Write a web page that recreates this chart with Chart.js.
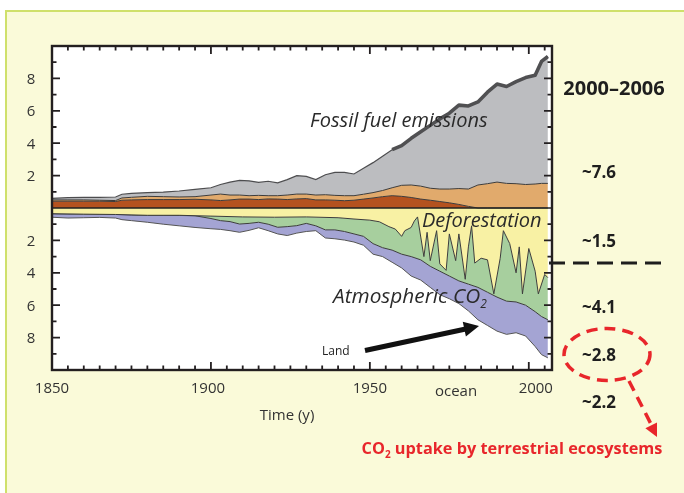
<!DOCTYPE html>
<html><head><meta charset="utf-8">
<style>html,body{margin:0;padding:0;background:#fff;overflow:hidden}#wrap{width:684px;height:493px;position:relative}</style>
<script src="https://cdn.jsdelivr.net/npm/chart.js@4.4.0/dist/chart.umd.min.js"></script>
</head><body><div id="wrap"><canvas id="c" width="684" height="493"></canvas></div>
<script>
// ---- data (GtC / y) ----
const years = [1850,1855,1860,1865,1870,1872,1875,1880,1885,1890,1895,1900,1903,1906,1909,1912,1915,1918,1921,1924,1927,1930,1933,1936,1939,1942,1945,1948,1951,1954,1957,1960,1963,1966,1969,1972,1975,1978,1981,1984,1987,1990,1993,1996,1999,2002,2004,2006];
const fossilTop = [0.6,0.64,0.66,0.66,0.68,0.85,0.9,0.95,0.98,1.05,1.15,1.25,1.45,1.6,1.7,1.68,1.58,1.65,1.55,1.75,2.0,1.95,1.75,2.05,2.2,2.2,2.1,2.45,2.8,3.2,3.6,3.85,4.3,4.7,5.1,5.5,5.85,6.35,6.3,6.55,7.15,7.65,7.5,7.8,8.05,8.2,9.05,9.35];
const landUseTop = [0.5,0.5,0.5,0.48,0.46,0.62,0.66,0.72,0.7,0.68,0.7,0.8,0.86,0.8,0.8,0.76,0.78,0.76,0.76,0.8,0.86,0.86,0.8,0.82,0.78,0.76,0.76,0.85,0.95,1.08,1.25,1.4,1.42,1.35,1.22,1.17,1.17,1.2,1.17,1.42,1.5,1.6,1.52,1.5,1.45,1.48,1.52,1.52];
const brownTop = [0.42,0.42,0.42,0.42,0.4,0.48,0.5,0.52,0.52,0.52,0.54,0.5,0.46,0.5,0.55,0.55,0.52,0.56,0.55,0.52,0.56,0.58,0.5,0.5,0.48,0.45,0.48,0.55,0.62,0.7,0.76,0.72,0.65,0.55,0.48,0.4,0.32,0.22,0.1,0,0,0,0,0,0,0,0,0];
const landSinkYears = [1850,1860,1870,1880,1890,1900,1910,1920,1930,1940,1945,1950,1953,1956,1958,1960,1961,1963,1964,1965,1967,1968,1969,1971,1972,1974,1975,1977,1978,1980,1981,1982,1983,1985,1987,1989,1991,1992,1994,1996,1997,1998,2000,2002,2003,2005,2006];
const landSinkEdge = [-0.35,-0.38,-0.4,-0.45,-0.45,-0.5,-0.55,-0.57,-0.55,-0.6,-0.68,-0.75,-0.85,-1.15,-1.3,-1.75,-1.4,-1.2,-0.8,-0.55,-3.0,-1.5,-3.25,-1.4,-3.45,-3.85,-1.6,-3.25,-1.6,-4.4,-2.4,-1.1,-3.4,-3.1,-3.2,-5.3,-3.1,-1.4,-2.2,-4.0,-2.4,-5.3,-2.5,-3.9,-5.3,-4.1,-4.3];
const atmosEdge = [-0.36,-0.37,-0.38,-0.39,-0.4,-0.41,-0.43,-0.45,-0.45,-0.46,-0.48,-0.65,-0.78,-0.84,-0.99,-0.95,-0.88,-1.0,-1.19,-1.15,-1.09,-0.95,-1.1,-1.35,-1.35,-1.45,-1.6,-1.75,-2.2,-2.45,-2.6,-2.85,-3.0,-3.2,-3.6,-3.9,-4.2,-4.5,-4.7,-4.9,-5.2,-5.5,-5.75,-5.8,-6.0,-6.4,-6.7,-6.9];
const oceanEdge = [-0.57,-0.62,-0.6,-0.58,-0.62,-0.72,-0.78,-0.88,-1.0,-1.1,-1.2,-1.28,-1.32,-1.4,-1.5,-1.38,-1.22,-1.4,-1.6,-1.7,-1.55,-1.45,-1.4,-1.85,-1.9,-1.98,-2.1,-2.3,-2.85,-3.0,-3.35,-3.7,-4.2,-4.45,-4.9,-5.35,-5.6,-5.9,-6.35,-6.9,-7.25,-7.6,-7.8,-7.7,-7.9,-8.55,-9.05,-9.25];
const xTickLabels = [1850,1900,1950,2000];
const yTickValues = [8,6,4,2,-2,-4,-6,-8];
const budgetLabels = ['~7.6','~1.5','~4.1','~2.8','~2.2'];

const pts = (xs, ys) => xs.map((x,i)=>({x, y: ys[i]}));
const LINE = '#3c3c3c';
const FONT = '"Open Sans", "DejaVu Sans", sans-serif';

function ds(data, fill, bg, extra){
  return Object.assign({data, fill, backgroundColor: bg, borderColor: LINE, borderWidth: 1,
    pointRadius: 0, tension: 0}, extra||{});
}

const bgPlugin = {
  id:'bg',
  beforeDraw(chart){
    const c = chart.ctx, a = chart.chartArea;
    c.save();
    c.fillStyle='#ffffff'; c.fillRect(0,0,chart.width,chart.height);
    c.fillStyle='#fafad9'; c.fillRect(6,11,chart.width-6,chart.height-11);
    c.strokeStyle='#cfe06b'; c.lineWidth=2;
    c.beginPath(); c.moveTo(6,chart.height); c.lineTo(6,11); c.lineTo(chart.width,11); c.stroke();
    c.fillStyle='#ffffff'; c.fillRect(a.left,a.top,a.right-a.left,a.bottom-a.top);
    c.restore();
  }
};

function subText(c, parts, x, y, align){
  const base = c.font;
  let total = 0; const widths=[];
  parts.forEach(p=>{ c.font = p[1]? p[2] : base; const w=c.measureText(p[0]).width; widths.push(w); total+=w; });
  let cx = align==='center' ? x-total/2 : x;
  c.textAlign='left';
  parts.forEach((p,i)=>{ c.font = p[1]? p[2] : base; c.fillText(p[0], cx, p[1]? y+p[3] : y); cx+=widths[i]; });
  c.font = base;
}

function arrowHead(c, x0,y0,x1,y1, len, half){
  const dx=x1-x0, dy=y1-y0, L=Math.hypot(dx,dy), ux=dx/L, uy=dy/L;
  const bx=x1-ux*len, by=y1-uy*len;
  c.beginPath(); c.moveTo(x1,y1); c.lineTo(bx-uy*half, by+ux*half); c.lineTo(bx+uy*half, by-ux*half); c.closePath(); c.fill();
}

const axesPlugin = {
  id:'axes',
  afterDatasetsDraw(chart){
    const c = chart.ctx, a = chart.chartArea, X = chart.scales.x, Y = chart.scales.y;
    c.save();
    c.strokeStyle='#222'; c.lineWidth=1.5;
    c.beginPath(); c.moveTo(a.left, Y.getPixelForValue(0)); c.lineTo(a.right, Y.getPixelForValue(0)); c.stroke();
    c.strokeStyle='#231f20'; c.lineWidth=2.4;
    c.strokeRect(a.left, a.top, a.right-a.left, a.bottom-a.top);
    c.lineWidth=1.8;
    c.beginPath();
    for(let yr=1850; yr<=2005; yr+=5){
      const px = X.getPixelForValue(yr), L = (yr%50===0)?8:4.5;
      c.moveTo(px,a.bottom); c.lineTo(px,a.bottom-L);
      c.moveTo(px,a.top); c.lineTo(px,a.top+L);
    }
    for(let v=-9; v<=9; v++){
      if(v===0) continue;
      const py = Y.getPixelForValue(v), L=(v%2===0)?8:4.5;
      c.moveTo(a.left,py); c.lineTo(a.left+L,py);
      c.moveTo(a.right,py); c.lineTo(a.right-L,py);
    }
    c.stroke();
    c.fillStyle='#333'; c.font='15px '+FONT; c.textBaseline='alphabetic';
    c.textAlign='center';
    yTickValues.forEach(v=>{ c.fillText(String(Math.abs(v)), 31, Y.getPixelForValue(v)+5.5); });
    xTickLabels.forEach((v,i)=>{ c.fillText(String(v), X.getPixelForValue(v) + (i===3?7:(i===1?-3:0)), 393); });
    c.fillText('ocean', 456, 396);
    c.fillText('Time (y)', 287, 420);
    c.fillStyle='#2a2a2a';
    c.font='italic 20px '+FONT; c.textAlign='left';
    c.fillText('Fossil fuel emissions', X.getPixelForValue(1931.2), Y.getPixelForValue(5.0));
    c.fillText('Deforestation', X.getPixelForValue(1966.4), Y.getPixelForValue(-1.15));
    c.font='italic 20.8px '+FONT;
    subText(c, [['Atmospheric CO',false],['2',true,'italic 12px '+FONT,5]], X.getPixelForValue(1938.4), Y.getPixelForValue(-5.86), 'left');
    c.font='12px '+FONT; c.fillStyle='#222';
    c.fillText('Land', 322, 355);
    c.strokeStyle='#111'; c.fillStyle='#111'; c.lineWidth=5;
    c.beginPath(); c.moveTo(365,350.5); c.lineTo(468,328.5); c.stroke();
    arrowHead(c, 365,350.5, 479,326, 15, 7.5);
    c.fillStyle='#1e1e1e'; c.textAlign='center';
    c.font='bold 20px '+FONT; c.fillText('2000\u20132006', 614, 95);
    c.font='bold 17px '+FONT;
    const by=[178,247,313,361,408];
    budgetLabels.forEach((t,i)=>c.fillText(t, 599, by[i]));
    c.strokeStyle='#1e1e1e'; c.lineWidth=3; c.setLineDash([16,8]);
    c.beginPath(); c.moveTo(549,263); c.lineTo(667,263); c.stroke();
    c.strokeStyle='#e8262b'; c.fillStyle='#e8262b'; c.lineWidth=3.5; c.setLineDash([11,7]);
    c.beginPath(); c.ellipse(607,354.5,43,26,0,0,Math.PI*2); c.stroke();
    c.beginPath(); c.moveTo(629,381); c.lineTo(652,426); c.stroke();
    c.setLineDash([]);
    arrowHead(c, 629,381, 657,437, 13, 6.5);
    c.font='bold 16.3px '+FONT;
    subText(c, [['CO',false],['2',true,'bold 10px '+FONT,4],[' uptake by terrestrial ecosystems',false]], 512, 454, 'center');
    c.restore();
  }
};

const recent = pts(years, fossilTop).filter(p => p.x >= 1957);

new Chart(document.getElementById('c'), {
  type:'line',
  data:{ datasets:[
    ds(pts(years, brownTop), 'origin', '#b4521f'),
    ds(pts(years, landUseTop), '-1', '#e1aa6c'),
    ds(pts(years, fossilTop), '-1', '#bcbdc0', {borderColor:'#4d4d4f', borderWidth:1.2}),
    ds(pts(landSinkYears, landSinkEdge), 'origin', '#f8f1a4'),
    ds(pts(years, atmosEdge), '-1', '#a7cf9e'),
    ds(pts(years, oceanEdge), '-1', '#a4a4d3', {borderColor:'#555'}),
    ds(recent, false, 'transparent', {borderColor:'#505052', borderWidth:3.6, order:-1, borderJoinStyle:'round'})
  ]},
  options:{
    responsive:false, devicePixelRatio:1, animation:false,
    layout:{ padding:{ left:52, right:132, top:46, bottom:123 } },
    scales:{
      x:{ type:'linear', min:1850, max:2007.3, display:false },
      y:{ type:'linear', min:-10, max:10, display:false }
    },
    plugins:{ legend:{display:false}, tooltip:{enabled:false} }
  },
  plugins:[bgPlugin, axesPlugin]
});
</script></body></html>
